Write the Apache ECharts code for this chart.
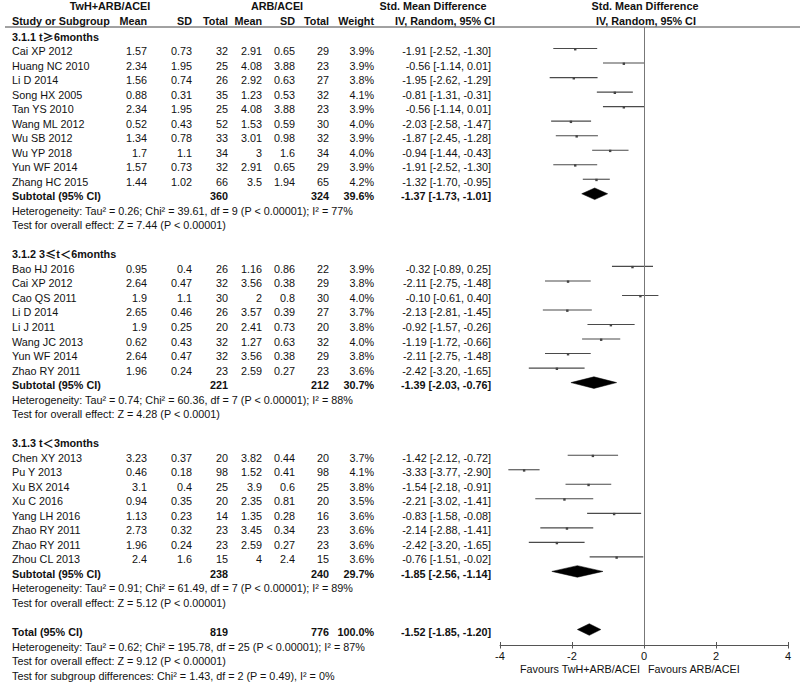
<!DOCTYPE html>
<html><head><meta charset="utf-8">
<script src="https://cdn.jsdelivr.net/npm/echarts/dist/echarts.min.js"></script>
<style>html,body{margin:0;padding:0;background:#fff}#c{width:800px;height:683px}</style>
</head><body><div id="c"></div>
<script>
// ---------------- DATA ----------------
const groupLabels = ['3.1.1 t\u22656months', '3.1.2 3\u2264t\uFF1C6months', '3.1.3 t\uFF1C3months'];
const studyNames = ['Cai XP 2012','Huang NC 2010','Li D 2014','Song HX 2005','Tan YS 2010','Wang ML 2012','Wu SB 2012','Wu YP 2018','Yun WF 2014','Zhang HC 2015',
  'Bao HJ 2016','Cai XP 2012','Cao QS 2011','Li D 2014','Li J 2011','Wang JC 2013','Yun WF 2014','Zhao RY 2011',
  'Chen XY 2013','Pu Y 2013','Xu BX 2014','Xu C 2016','Yang LH 2016','Zhao RY 2011','Zhao RY 2011','Zhou CL 2013'];
const studyGroup = [0,0,0,0,0,0,0,0,0,0, 1,1,1,1,1,1,1,1, 2,2,2,2,2,2,2,2];
const twhMean = [1.57,2.34,1.56,0.88,2.34,0.52,1.34,1.7,1.57,1.44, 0.95,2.64,1.9,2.65,1.9,0.62,2.64,1.96, 3.23,0.46,3.1,0.94,1.13,2.73,1.96,2.4];
const twhSD   = [0.73,1.95,0.74,0.31,1.95,0.43,0.78,1.1,0.73,1.02, 0.4,0.47,1.1,0.46,0.25,0.43,0.47,0.24, 0.37,0.18,0.4,0.35,0.23,0.32,0.24,1.6];
const twhN    = [32,25,26,35,25,52,33,34,32,66, 26,32,30,26,20,32,32,23, 20,98,25,20,14,23,23,15];
const arbMean = [2.91,4.08,2.92,1.23,4.08,1.53,3.01,3,2.91,3.5, 1.16,3.56,2,3.57,2.41,1.27,3.56,2.59, 3.82,1.52,3.9,2.35,1.35,3.45,2.59,4];
const arbSD   = [0.65,3.88,0.63,0.53,3.88,0.59,0.98,1.6,0.65,1.94, 0.86,0.38,0.8,0.39,0.73,0.63,0.38,0.27, 0.44,0.41,0.6,0.81,0.28,0.34,0.27,2.4];
const arbN    = [29,23,27,32,23,30,32,34,29,65, 22,29,30,27,20,32,29,23, 20,98,25,20,16,23,23,15];
const weightPct = [3.9,3.9,3.8,4.1,3.9,4.0,3.9,4.0,3.9,4.2, 3.9,3.8,4.0,3.7,3.8,4.0,3.8,3.6, 3.7,4.1,3.8,3.5,3.6,3.6,3.6,3.6];
const smd     = [-1.91,-0.56,-1.95,-0.81,-0.56,-2.03,-1.87,-0.94,-1.91,-1.32, -0.32,-2.11,-0.10,-2.13,-0.92,-1.19,-2.11,-2.42, -1.42,-3.33,-1.54,-2.21,-0.83,-2.14,-2.42,-0.76];
const ciLow   = [-2.52,-1.14,-2.62,-1.31,-1.14,-2.58,-2.45,-1.44,-2.52,-1.70, -0.89,-2.75,-0.61,-2.81,-1.57,-1.72,-2.75,-3.20, -2.12,-3.77,-2.18,-3.02,-1.58,-2.88,-3.20,-1.51];
const ciHigh  = [-1.30,0.01,-1.29,-0.31,0.01,-1.47,-1.28,-0.43,-1.30,-0.95, 0.25,-1.48,0.40,-1.45,-0.26,-0.66,-1.48,-1.65, -0.72,-2.90,-0.91,-1.41,-0.08,-1.41,-1.65,-0.02];
const subTwhN = [360,221,238];
const subArbN = [324,212,240];
const subWeight = [39.6,30.7,29.7];
const subSMD  = [-1.37,-1.39,-1.85];
const subLow  = [-1.73,-2.03,-2.56];
const subHigh = [-1.01,-0.76,-1.14];
const subHet  = ['Heterogeneity: Tau\u00B2 = 0.26; Chi\u00B2 = 39.61, df = 9 (P < 0.00001); I\u00B2 = 77%',
                 'Heterogeneity: Tau\u00B2 = 0.74; Chi\u00B2 = 60.36, df = 7 (P < 0.00001); I\u00B2 = 88%',
                 'Heterogeneity: Tau\u00B2 = 0.91; Chi\u00B2 = 61.49, df = 7 (P < 0.00001); I\u00B2 = 89%'];
const subTest = ['Test for overall effect: Z = 7.44 (P < 0.00001)',
                 'Test for overall effect: Z = 4.28 (P < 0.0001)',
                 'Test for overall effect: Z = 5.12 (P < 0.00001)'];
const totalTwhN = 819, totalArbN = 776, totalWeight = 100.0;
const totalSMD = -1.52, totalLow = -1.85, totalHigh = -1.20;
const totalHet = 'Heterogeneity: Tau\u00B2 = 0.62; Chi\u00B2 = 195.78, df = 25 (P < 0.00001); I\u00B2 = 87%';
const totalTest = 'Test for overall effect: Z = 9.12 (P < 0.00001)';
const subgroupTest = 'Test for subgroup differences: Chi\u00B2 = 1.43, df = 2 (P = 0.49), I\u00B2 = 0%';
const xTicks = [-4,-2,0,2,4];
const favoursLeft = 'Favours TwH+ARB/ACEI', favoursRight = 'Favours ARB/ACEI';

// ---------------- LAYOUT ----------------
const FONT = '"Liberation Sans", Arial, "Noto Sans CJK SC", sans-serif';
const CJK_FONT = '"Noto Sans CJK SC", "Noto Sans CJK JP", sans-serif';
const FS = 10.8;
const ROW_H = 14.525, ROW0 = 36.5, SHIFT = -2.5;
const PLOT_TOP = 27, AXIS_Y = 645, PLOT_LEFT = 500, PLOT_RIGHT = 788;
const COL = {name:12, m1:147, sd1:192, n1:228, m2:262, sd2:295, n2:329, w:374, ci:491};
const TXT = '#111';

const texts = [];
const marks = [];
function T(row, x, text, align, bold, rich){ texts.push({row, x, text:String(text), align:align||'right', bold:!!bold, rich:!!rich}); }
const f2 = v => v.toFixed(2);
const ciStr = (e,l,h) => f2(e) + ' [' + f2(l) + ', ' + f2(h) + ']';

// header
T(-2.07, 110, 'TwH+ARB/ACEI', 'center', true);
T(-2.07, 277, 'ARB/ACEI', 'center', true);
T(-2.07, 433, 'Std. Mean Difference', 'center', true);
T(-2.07, 645, 'Std. Mean Difference', 'center', true);
T(-1.07, COL.name, 'Study or Subgroup', 'left', true);
T(-1.07, COL.m1, 'Mean', 'right', true);
T(-1.07, COL.sd1, 'SD', 'right', true);
T(-1.07, COL.n1, 'Total', 'right', true);
T(-1.07, COL.m2, 'Mean', 'right', true);
T(-1.07, COL.sd2, 'SD', 'right', true);
T(-1.07, COL.n2, 'Total', 'right', true);
T(-1.07, COL.w, 'Weight', 'right', true);
T(-1.07, 445, 'IV, Random, 95% CI', 'center', true);
T(-1.07, 646, 'IV, Random, 95% CI', 'center', true);

let row = 0;
for (let g = 0; g < groupLabels.length; g++) {
  T(row, COL.name, groupLabels[g], 'left', true, true); row++;
  for (let i = 0; i < studyNames.length; i++) {
    if (studyGroup[i] !== g) continue;
    T(row, COL.name, studyNames[i], 'left');
    T(row, COL.m1, twhMean[i]); T(row, COL.sd1, twhSD[i]); T(row, COL.n1, twhN[i]);
    T(row, COL.m2, arbMean[i]); T(row, COL.sd2, arbSD[i]); T(row, COL.n2, arbN[i]);
    T(row, COL.w, weightPct[i].toFixed(1) + '%');
    T(row, COL.ci, ciStr(smd[i], ciLow[i], ciHigh[i]));
    marks.push([smd[i], ciLow[i], ciHigh[i], row, 0]);
    row++;
  }
  T(row, COL.name, 'Subtotal (95% CI)', 'left', true);
  T(row, COL.n1, subTwhN[g], 'right', true);
  T(row, COL.n2, subArbN[g], 'right', true);
  T(row, COL.w, subWeight[g].toFixed(1) + '%', 'right', true);
  T(row, COL.ci, ciStr(subSMD[g], subLow[g], subHigh[g]), 'right', true);
  marks.push([subSMD[g], subLow[g], subHigh[g], row, 1]);
  row++;
  T(row, COL.name, subHet[g], 'left'); row++;
  T(row, COL.name, subTest[g], 'left'); row++;
  row++;
}
T(row, COL.name, 'Total (95% CI)', 'left', true);
T(row, COL.n1, totalTwhN, 'right', true);
T(row, COL.n2, totalArbN, 'right', true);
T(row, COL.w, totalWeight.toFixed(1) + '%', 'right', true);
T(row, COL.ci, ciStr(totalSMD, totalLow, totalHigh), 'right', true);
marks.push([totalSMD, totalLow, totalHigh, row, 1]);
row++;
T(row, COL.name, totalHet, 'left'); row++;
T(row, COL.name, totalTest, 'left'); row++;
T(row, COL.name, subgroupTest, 'left'); row++;

const plotRow0 = ROW0 + SHIFT;
const y1Min = (PLOT_TOP - plotRow0) / ROW_H;
const y1Max = (AXIS_Y - plotRow0) / ROW_H;

const chart = echarts.init(document.getElementById('c'), null, {renderer: 'svg'});
const tickInterval = xTicks[1] - xTicks[0];
chart.setOption({
  animation: false,
  backgroundColor: '#fff',
  grid: [
    {left: 0, width: 800, top: ROW0 - 2.5 * ROW_H, height: 47 * ROW_H},
    {left: PLOT_LEFT, width: PLOT_RIGHT - PLOT_LEFT, top: PLOT_TOP, height: AXIS_Y - PLOT_TOP}
  ],
  xAxis: [
    {gridIndex: 0, type: 'value', min: 0, max: 800, show: false},
    {gridIndex: 1, type: 'value', position: 'bottom', min: xTicks[0], max: xTicks[xTicks.length-1], interval: tickInterval,
     axisLine: {show: true, onZero: false, lineStyle: {color: '#555', width: 1}},
     axisTick: {show: true, length: 3.5, lineStyle: {color: '#555', width: 1}},
     axisLabel: {show: true, fontSize: 11, color: TXT, fontFamily: FONT, margin: 5},
     splitLine: {show: false}},
    {gridIndex: 1, type: 'value', position: 'bottom', min: xTicks[0], max: xTicks[xTicks.length-1], interval: tickInterval,
     axisLine: {show: false, onZero: false},
     axisTick: {show: true, inside: true, length: 3, lineStyle: {color: '#555', width: 1}},
     axisLabel: {show: false}, splitLine: {show: false}}
  ],
  yAxis: [
    {gridIndex: 0, type: 'value', min: -2.5, max: 44.5, inverse: true, show: false},
    {gridIndex: 1, type: 'value', min: y1Min, max: y1Max, inverse: true, show: false}
  ],
  graphic: [
    {type: 'line', shape: {x1: 5, y1: PLOT_TOP, x2: 800, y2: PLOT_TOP}, style: {stroke: '#444', lineWidth: 1}},
    {type: 'text', x: 640, y: 669, style: {text: favoursLeft, align: 'right', verticalAlign: 'middle', fontSize: FS, fontFamily: FONT, fill: TXT}},
    {type: 'text', x: 648, y: 669, style: {text: favoursRight, align: 'left', verticalAlign: 'middle', fontSize: FS, fontFamily: FONT, fill: TXT}}
  ],
  series: [
    {
      type: 'custom', xAxisIndex: 0, yAxisIndex: 0, clip: false, silent: true,
      data: texts.map(e => [e.x, e.row]),
      encode: {x: 0, y: 1},
      renderItem: function (params, api) {
        const e = texts[params.dataIndex];
        const p = api.coord([api.value(0), api.value(1)]);
        const st = {text: e.text, align: e.align, verticalAlign: 'middle',
          fontSize: FS, fontFamily: FONT, fontWeight: e.bold ? 'bold' : 'normal', fill: TXT};
        if (e.rich) {
          st.text = e.text.replace(/([\u2265\u2264\uFF1C])/g, '{c|$1}').replace(/^([^{]+)/, '{b|$1}')
                          .replace(/\}([^{}]+)(?=\{|$)/g, '}{b|$1}');
          st.rich = {
            b: {fontSize: FS, fontFamily: FONT, fontWeight: 'bold', fill: TXT},
            c: {fontSize: FS + 0.5, fontFamily: CJK_FONT, fontWeight: 'bold', fill: TXT}
          };
        }
        return {type: 'text', x: p[0], y: p[1], style: st};
      }
    },
    {
      type: 'custom', xAxisIndex: 1, yAxisIndex: 1, clip: false, silent: true,
      data: marks,
      encode: {x: [0,1,2], y: 3},
      renderItem: function (params, api) {
        const est = api.value(0), lo = api.value(1), hi = api.value(2), r = api.value(3), d = api.value(4);
        const pE = api.coord([est, r]), pL = api.coord([lo, r]), pH = api.coord([hi, r]);
        if (d === 1) {
          const h = 5.8;
          return {type: 'polygon', shape: {points: [[pL[0], pE[1]], [pE[0], pE[1] - h], [pH[0], pE[1]], [pE[0], pE[1] + h]]},
                  style: {fill: '#000', stroke: '#000', lineWidth: 0.5}};
        }
        return {type: 'group', children: [
          {type: 'line', shape: {x1: pL[0], y1: pE[1], x2: pH[0], y2: pE[1]}, style: {stroke: '#4a4a4a', lineWidth: 1.1}},
          {type: 'rect', shape: {x: pE[0] - 1.2, y: pE[1] - 0.5, width: 2.4, height: 2.4}, style: {fill: '#444'}}
        ]};
      },
      markLine: {silent: true, symbol: 'none', animation: false, label: {show: false},
        lineStyle: {color: '#777', width: 1, type: 'solid'}, data: [{xAxis: 0}]}
    }
  ]
});
</script>
</body></html>
